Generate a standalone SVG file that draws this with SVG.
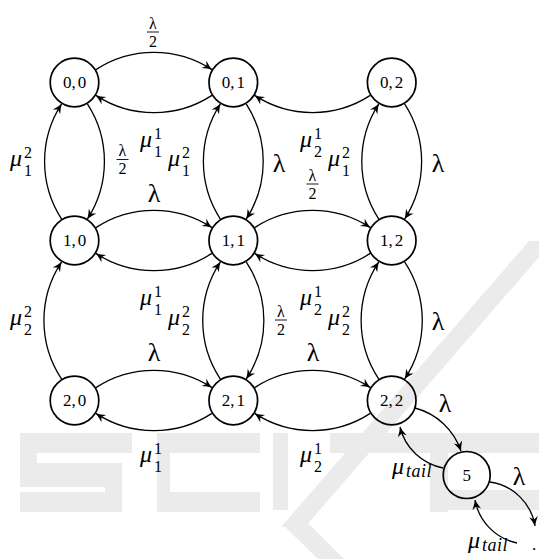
<svg xmlns="http://www.w3.org/2000/svg" width="539" height="559" viewBox="0 0 539 559">
  <defs>
    <marker id="arr" markerUnits="userSpaceOnUse" markerWidth="12" markerHeight="10" viewBox="-10 -5 12 10" refX="0" refY="0" orient="auto">
      <path d="M0,0 Q-4.5,-1.6 -9.5,-4.4 L-6.6,0 L-9.5,4.4 Q-4.5,1.6 0,0 Z" fill="#000"/>
    </marker>
    <style>
      .logo { fill: #ebebeb; }
      .node circle { fill: none; stroke: #000; stroke-width: 1.7; }
      .node text { font-family: "Liberation Serif", "Times New Roman", serif; font-size: 17px; text-anchor: middle; fill: #000; }
      .edge { fill: none; stroke: #000; stroke-width: 1.3; marker-end: url(#arr); }
      .lbl { font-family: "Liberation Serif", "Times New Roman", serif; font-size: 24px; fill: #000; }
      .lam { font-size: 26px; text-anchor: middle; }
      .mu { font-style: italic; }
      .sc { font-size: 16px; font-style: normal; }
      .frac { font-family: "Liberation Serif", "Times New Roman", serif; font-size: 16px; text-anchor: middle; fill: #000; }
      .bar { stroke: #000; stroke-width: 0.9; }
      .tail { font-size: 18px; font-style: italic; letter-spacing: 0.5px; }
    </style>
  </defs>

  <!-- faint publisher logo in the background -->
  <g id="logo" class="logo">
    <path d="M20,433 H132 V453 H37 V463 H122 V512 H20 V492 H105 V487 H20 Z"/>
    <path d="M157,433 H260 V453 H170 V492 H260 V512 H157 Z"/>
    <rect x="273" y="433" width="15" height="77"/>
    <rect x="330" y="433" width="209" height="20"/>
    <polygon points="529,241 553,241 305,527 281,527"/>
    <polygon points="283,525 300,515 344,559 318,559"/>
    <rect x="430" y="433" width="18" height="79"/>
    <rect x="430" y="490" width="109" height="20"/>
  </g>

  <!-- transitions -->
  <g id="edges">
    <!-- row 0 -->
    <path class="edge" d="M95.9,69.6 A106,106 0 0 1 211.9,69.6"/>
    <path class="edge" d="M211.9,95.4 A106,106 0 0 1 95.9,95.4"/>
    <path class="edge" d="M370.3,95.4 A106,106 0 0 1 254.7,95.4"/>
    <!-- rows 0-1 -->
    <path class="edge" d="M61.6,219.1 A106,106 0 0 1 61.6,103.9"/>
    <path class="edge" d="M87.4,103.9 A106,106 0 0 1 87.4,219.1"/>
    <path class="edge" d="M220.4,219.1 A106,106 0 0 1 220.4,103.9"/>
    <path class="edge" d="M246.2,103.9 A106,106 0 0 1 246.2,219.1"/>
    <path class="edge" d="M378.8,219.1 A106,106 0 0 1 378.8,103.9"/>
    <path class="edge" d="M404.6,103.9 A106,106 0 0 1 404.6,219.1"/>
    <!-- row 1 -->
    <path class="edge" d="M95.9,227.6 A106,106 0 0 1 211.9,227.6"/>
    <path class="edge" d="M211.9,253.4 A106,106 0 0 1 95.9,253.4"/>
    <path class="edge" d="M254.7,227.6 A106,106 0 0 1 370.3,227.6"/>
    <path class="edge" d="M370.3,253.4 A106,106 0 0 1 254.7,253.4"/>
    <!-- rows 1-2 -->
    <path class="edge" d="M61.6,379.1 A106,106 0 0 1 61.6,261.9"/>
    <path class="edge" d="M220.4,379.1 A106,106 0 0 1 220.4,261.9"/>
    <path class="edge" d="M246.2,261.9 A106,106 0 0 1 246.2,379.1"/>
    <path class="edge" d="M378.8,379.1 A106,106 0 0 1 378.8,261.9"/>
    <path class="edge" d="M404.6,261.9 A106,106 0 0 1 404.6,379.1"/>
    <!-- row 2 -->
    <path class="edge" d="M95.9,387.6 A106,106 0 0 1 211.9,387.6"/>
    <path class="edge" d="M211.9,413.4 A106,106 0 0 1 95.9,413.4"/>
    <path class="edge" d="M254.7,387.6 A106,106 0 0 1 370.3,387.6"/>
    <path class="edge" d="M370.3,413.4 A106,106 0 0 1 254.7,413.4"/>
    <!-- tail -->
    <path class="edge" d="M415,408 A66,66 0 0 1 461,451"/>
    <path class="edge" d="M443,468 A55,55 0 0 1 400,427"/>
    <path class="edge" d="M490,482 A53,53 0 0 1 535,526"/>
    <path class="edge" d="M517,543 A54,54 0 0 1 475,500"/>
  </g>

  <!-- states -->
  <g id="n00" class="node"><circle cx="74.5" cy="82.5" r="24.3"/><text x="74.5" y="88.3">0,<tspan dx="2">0</tspan></text></g>
  <g id="n01" class="node"><circle cx="233.3" cy="82.5" r="24.3"/><text x="233.3" y="88.3">0,<tspan dx="2">1</tspan></text></g>
  <g id="n02" class="node"><circle cx="391.7" cy="82.5" r="24.3"/><text x="391.7" y="88.3">0,<tspan dx="2">2</tspan></text></g>
  <g id="n10" class="node"><circle cx="74.5" cy="240.5" r="24.3"/><text x="74.5" y="246.3">1,<tspan dx="2">0</tspan></text></g>
  <g id="n11" class="node"><circle cx="233.3" cy="240.5" r="24.3"/><text x="233.3" y="246.3">1,<tspan dx="2">1</tspan></text></g>
  <g id="n12" class="node"><circle cx="391.7" cy="240.5" r="24.3"/><text x="391.7" y="246.3">1,<tspan dx="2">2</tspan></text></g>
  <g id="n20" class="node"><circle cx="74.5" cy="400.5" r="24.3"/><text x="74.5" y="406.3">2,<tspan dx="2">0</tspan></text></g>
  <g id="n21" class="node"><circle cx="233.3" cy="400.5" r="24.3"/><text x="233.3" y="406.3">2,<tspan dx="2">1</tspan></text></g>
  <g id="n22" class="node"><circle cx="391.7" cy="400.5" r="24.3"/><text x="391.7" y="406.3">2,<tspan dx="2">2</tspan></text></g>
  <g id="n5" class="node"><circle cx="466.7" cy="475" r="23.5"/><text x="466.7" y="480.8">5</text></g>

  <!-- rate labels -->
  <g id="labels">
    <!-- fractions lambda/2 -->
    <text class="frac" x="153" y="28.5">λ</text><line class="bar" x1="147" y1="32" x2="159" y2="32"/><text class="frac" x="153" y="46.5">2</text>
    <text class="frac" x="122.5" y="156">λ</text><line class="bar" x1="116.5" y1="159.5" x2="128.5" y2="159.5"/><text class="frac" x="122.5" y="174">2</text>
    <text class="frac" x="312.5" y="180.5">λ</text><line class="bar" x1="306.5" y1="184" x2="318.5" y2="184"/><text class="frac" x="312.5" y="198.5">2</text>
    <text class="frac" x="281" y="316.5">λ</text><line class="bar" x1="275" y1="320" x2="287" y2="320"/><text class="frac" x="281" y="334.5">2</text>

    <!-- lambda -->
    <text class="lbl lam" x="279" y="172">λ</text>
    <text class="lbl lam" x="438" y="172">λ</text>
    <text class="lbl lam" x="154" y="202">λ</text>
    <text class="lbl lam" x="438" y="330">λ</text>
    <text class="lbl lam" x="154" y="361">λ</text>
    <text class="lbl lam" x="313" y="361">λ</text>
    <text class="lbl lam" x="445" y="412">λ</text>
    <text class="lbl lam" x="519" y="485">λ</text>

    <!-- mu with indices -->
    <text class="lbl"><tspan class="mu" x="10" y="166">μ</tspan><tspan class="sc" x="24" y="158">2</tspan><tspan class="sc" x="24" y="176">1</tspan></text>
    <text class="lbl"><tspan class="mu" x="140" y="146.5">μ</tspan><tspan class="sc" x="154" y="138.5">1</tspan><tspan class="sc" x="154" y="156.5">1</tspan></text>
    <text class="lbl"><tspan class="mu" x="168" y="166">μ</tspan><tspan class="sc" x="182" y="158">2</tspan><tspan class="sc" x="182" y="176">1</tspan></text>
    <text class="lbl"><tspan class="mu" x="300" y="146.5">μ</tspan><tspan class="sc" x="314" y="138.5">1</tspan><tspan class="sc" x="314" y="156.5">2</tspan></text>
    <text class="lbl"><tspan class="mu" x="328" y="166">μ</tspan><tspan class="sc" x="342" y="158">2</tspan><tspan class="sc" x="342" y="176">1</tspan></text>
    <text class="lbl"><tspan class="mu" x="140" y="304.5">μ</tspan><tspan class="sc" x="154" y="296.5">1</tspan><tspan class="sc" x="154" y="314.5">1</tspan></text>
    <text class="lbl"><tspan class="mu" x="300" y="304.5">μ</tspan><tspan class="sc" x="314" y="296.5">1</tspan><tspan class="sc" x="314" y="314.5">2</tspan></text>
    <text class="lbl"><tspan class="mu" x="10" y="325">μ</tspan><tspan class="sc" x="24" y="317">2</tspan><tspan class="sc" x="24" y="335">2</tspan></text>
    <text class="lbl"><tspan class="mu" x="168" y="325">μ</tspan><tspan class="sc" x="182" y="317">2</tspan><tspan class="sc" x="182" y="335">2</tspan></text>
    <text class="lbl"><tspan class="mu" x="328" y="325">μ</tspan><tspan class="sc" x="342" y="317">2</tspan><tspan class="sc" x="342" y="335">2</tspan></text>
    <text class="lbl"><tspan class="mu" x="140" y="461.5">μ</tspan><tspan class="sc" x="154" y="453.5">1</tspan><tspan class="sc" x="154" y="471.5">1</tspan></text>
    <text class="lbl"><tspan class="mu" x="300" y="461.5">μ</tspan><tspan class="sc" x="314" y="453.5">1</tspan><tspan class="sc" x="314" y="471.5">2</tspan></text>

    <!-- mu tail -->
    <text class="lbl"><tspan class="mu" x="392" y="474">μ</tspan><tspan class="tail" x="406" y="477">tail</tspan></text>
    <text class="lbl"><tspan class="mu" x="468" y="548">μ</tspan><tspan class="tail" x="482" y="551">tail</tspan></text>
    <text class="lbl" x="532" y="550" style="font-size:17px">.</text>
  </g>
</svg>
